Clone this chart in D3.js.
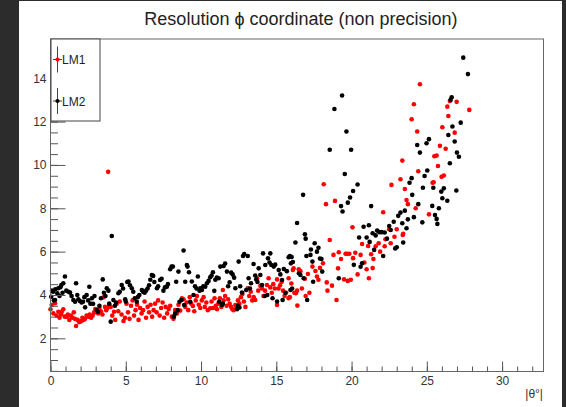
<!DOCTYPE html>
<html><head><meta charset="utf-8">
<script src="https://cdn.jsdelivr.net/npm/d3@7"></script>
<style>
html,body{margin:0;padding:0;background:#2c2c2c;}
svg{display:block;}
text{font-family:"Liberation Sans",Arial,Helvetica,sans-serif;}
</style></head>
<body>
<svg id="c" width="566" height="407"></svg>
<script>
const title = "Resolution \u03d5 coordinate (non precision)";
const xTitle = "|\u03b8\u00b0|";
const seriesNames = ["LM1", "LM2"];
const seriesColors = ["#ff0000", "#000000"];
const xTicks = [0, 5, 10, 15, 20, 25, 30];
const yTicks = [2, 4, 6, 8, 10, 12, 14];

// LM1 (red) : [|theta|, resolution]
const lm1 = [
[0.0,3.34],[0.08,3.54],[0.19,3.15],[0.3,3.62],[0.4,3.05],[0.52,3.23],[0.6,2.95],[0.7,3.1],[0.75,3.23],[0.85,3.34],[0.95,3.0],
[1.08,3.0],[1.15,3.1],[1.25,2.85],[1.35,3.05],[1.45,2.95],[1.55,3.2],[1.62,2.9],[1.7,2.57],[1.8,2.85],[1.9,2.75],[1.96,2.77],
[2.05,2.8],[2.12,2.95],[2.2,2.85],[2.3,2.9],[2.4,3.05],[2.52,3.0],[2.6,3.1],[2.7,2.95],[2.8,3.05],[2.9,3.2],[2.98,3.35],
[3.05,3.2],[3.18,3.15],[3.25,3.4],[3.35,3.25],[3.45,3.1],[3.52,3.89],[3.62,3.45],[3.7,3.3],[3.78,3.4],[3.83,9.68],[3.9,3.55],
[4.0,3.45],[4.1,3.05],[4.22,3.23],[4.3,2.85],[4.4,3.6],[4.5,3.25],[4.6,3.7],[4.72,3.1],[4.85,2.8],[4.95,2.95],
[5.05,3.6],[5.15,3.2],[5.25,2.9],[5.35,3.5],[5.45,3.75],[5.55,3.05],[5.65,3.3],[5.75,3.55],[5.85,2.85],[5.95,3.4],
[6.05,3.15],[6.15,3.3],[6.25,3.7],[6.35,2.95],[6.45,3.45],[6.55,3.2],[6.65,3.55],[6.75,3.0],[6.85,3.3],[6.95,3.6],
[7.05,3.2],[7.15,3.75],[7.25,3.05],[7.35,3.4],[7.45,3.65],[7.55,2.95],[7.65,3.45],[7.75,3.15],[7.85,3.35],[7.95,3.5],
[8.06,3.0],[8.17,2.9],[8.28,3.31],[8.4,3.15],[8.5,3.55],[8.62,3.28],[8.73,3.85],[8.84,3.8],[8.95,3.45],
[9.05,3.65],[9.15,3.3],[9.25,3.9],[9.35,3.6],[9.46,3.49],[9.55,3.25],[9.65,3.75],[9.73,3.95],[9.85,3.55],[9.95,3.4],
[10.05,3.75],[10.17,3.9],[10.25,3.45],[10.35,3.65],[10.45,3.3],[10.61,3.39],[10.7,3.7],[10.8,3.4],[10.9,3.85],[10.98,3.5],
[11.06,3.34],[11.15,3.6],[11.25,3.85],[11.35,3.45],[11.45,4.23],[11.5,3.75],[11.6,3.95],[11.7,3.5],[11.8,3.8],[11.9,3.6],[12.0,3.45],
[12.08,3.34],[12.16,3.3],[12.28,3.54],[12.35,3.4],[12.45,3.75],[12.55,3.6],[12.65,3.9],[12.75,4.05],[12.85,3.7],[12.95,3.45],
[13.1,4.31],[13.2,3.95],[13.3,4.15],[13.4,3.75],[13.5,3.9],[13.6,3.77],[13.72,4.77],[13.8,4.2],[13.94,4.42],
[14.05,4.3],[14.15,3.95],[14.25,4.2],[14.38,4.46],[14.49,4.77],[14.6,4.35],[14.7,4.1],[14.8,4.5],[14.9,4.3],
[15.05,4.72],[15.05,3.54],[15.15,4.3],[15.25,4.45],[15.35,4.6],[15.45,4.2],[15.55,3.95],[15.65,4.1],[15.82,4.77],[15.82,3.85],[15.9,3.9],
[16.0,4.53],[16.1,5.15],[16.15,5.23],[16.2,4.1],[16.3,4.08],[16.38,4.2],[16.4,3.51],[16.49,5.19],[16.6,5.1],[16.7,4.3],[16.9,4.75],[16.95,3.95],
[17.1,4.97],[17.2,4.1],[17.4,5.31],[17.6,5.11],[17.7,4.85],[17.8,4.7],[17.9,5.25],
[18.1,5.46],[18.15,9.11],[18.3,8.19],[18.35,4.58],[18.4,4.2],[18.55,6.54],[18.7,4.43],[18.8,5.85],[18.9,8.34],[19.0,3.77],
[19.1,5.23],[19.15,5.97],[19.3,5.66],[19.5,4.72],[19.6,5.9],[19.7,5.9],[19.75,4.65],[19.85,5.9],[19.95,4.7],
[20.06,7.12],[20.1,5.7],[20.25,5.95],[20.4,4.95],[20.6,5.85],[20.7,6.35],[20.85,5.5],[21.0,5.19],
[21.1,6.26],[21.15,4.77],[21.3,5.88],[21.4,5.24],[21.45,5.66],[21.6,6.25],[21.8,6.39],[21.9,6.0],
[22.1,7.82],[22.2,6.25],[22.25,6.57],[22.5,7.03],[22.6,6.39],[22.65,9.08],[22.85,6.69],[23.0,7.03],
[23.25,9.34],[23.37,10.2],[23.4,6.77],[23.43,6.82],[23.54,8.89],[23.65,8.38],[23.74,8.19],[23.99,12.11],
[24.14,12.8],[24.26,8.0],[24.36,11.54],[24.43,9.71],[24.54,13.72],
[25.14,7.72],[25.38,9.18],[25.45,9.2],[25.5,10.4],[25.65,10.43],[25.74,9.95],[25.87,10.88],[25.98,9.45],
[26.03,11.74],[26.13,9.51],[26.25,10.75],[26.36,12.69],[26.43,12.26],[26.53,12.95],[26.85,11.49],[26.98,12.91],
[27.82,12.54]
];

// LM2 (black)
const lm2 = [
[0.05,3.92],[0.1,4.2],[0.17,4.15],[0.22,3.75],[0.3,3.77],[0.32,4.26],[0.45,4.08],[0.52,4.31],[0.6,3.95],[0.66,4.36],[0.72,4.46],[0.8,4.1],[0.85,4.54],[0.96,4.85],
[1.05,4.2],[1.19,4.15],[1.3,4.11],[1.4,3.95],[1.52,3.77],[1.63,3.69],[1.7,4.54],[1.78,4.0],[1.85,3.8],[1.95,3.72],
[2.07,3.65],[2.16,3.69],[2.25,3.9],[2.3,3.43],[2.4,4.0],[2.5,3.75],[2.58,4.38],[2.65,3.6],[2.75,3.85],[2.83,3.59],[2.92,3.95],
[3.07,3.31],[3.16,3.23],[3.25,3.5],[3.35,3.85],[3.47,4.72],[3.55,4.1],[3.65,3.95],[3.74,4.31],[3.85,4.2],[3.9,3.6],[4.0,2.77],
[4.07,6.72],[4.18,3.77],[4.28,3.5],[4.35,3.65],[4.51,4.08],[4.6,4.15],[4.73,4.46],[4.82,4.3],[4.96,3.8],[5.0,3.7],
[5.1,4.6],[5.18,4.62],[5.28,4.45],[5.4,4.31],[5.5,4.15],[5.6,3.85],[5.73,3.69],[5.8,3.9],[5.9,4.0],
[6.07,4.23],[6.15,4.15],[6.25,4.1],[6.35,4.2],[6.45,4.3],[6.55,4.45],[6.63,4.7],[6.73,4.92],[6.82,4.88],[6.9,4.6],
[7.07,4.31],[7.15,4.4],[7.28,4.69],[7.38,4.75],[7.5,4.2],[7.6,4.35],[7.73,4.38],[7.8,4.5],[7.95,5.19],[8.04,5.31],
[8.13,5.31],[8.2,3.0],[8.28,3.15],[8.35,4.61],[8.45,3.3],[8.5,5.08],[8.57,3.69],[8.7,3.77],[8.84,6.05],[8.88,3.54],[8.95,4.61],
[9.06,5.38],[9.1,5.31],[9.2,5.05],[9.28,3.69],[9.39,4.62],[9.5,4.0],[9.6,4.4],[9.7,4.3],[9.79,4.85],[9.9,4.2],[9.95,4.31],
[10.06,4.23],[10.15,4.4],[10.28,4.38],[10.39,4.54],[10.5,4.65],[10.61,4.82],[10.7,4.9],[10.79,5.05],[10.88,4.19],[10.95,4.7],
[11.05,4.8],[11.17,4.77],[11.2,3.69],[11.28,5.31],[11.39,3.54],[11.45,3.6],[11.5,5.34],[11.6,5.45],[11.72,5.08],[11.8,4.4],[11.9,4.59],[12.0,5.03],
[12.1,4.95],[12.2,4.8],[12.28,4.31],[12.39,3.34],[12.45,3.5],[12.5,5.54],[12.55,3.42],[12.6,4.4],[12.72,4.11],[12.79,5.8],[12.87,5.89],[13.0,4.23],
[13.1,5.8],[13.16,4.77],[13.25,4.3],[13.32,4.54],[13.49,5.43],[13.6,4.9],[13.67,4.72],[13.75,4.6],[13.83,5.23],[13.94,4.92],
[14.05,4.46],[14.12,5.92],[14.23,3.95],[14.27,5.38],[14.4,4.0],[14.45,5.69],[14.55,5.5],[14.6,5.92],[14.67,5.38],[14.75,3.85],[14.83,5.31],[14.93,5.4],
[15.05,3.7],[15.16,5.15],[15.27,4.95],[15.38,4.69],[15.42,3.77],[15.5,5.2],[15.6,4.1],[15.7,5.1],[15.82,5.74],[15.9,5.8],[15.94,4.23],[15.97,5.46],
[16.02,5.75],[16.05,4.3],[16.1,5.52],[16.27,6.42],[16.38,7.32],[16.5,5.0],[16.6,4.92],[16.78,8.62],[16.82,4.77],[16.9,6.8],[16.95,6.6],[17.0,5.8],[17.05,3.77],
[17.27,5.85],[17.3,6.1],[17.4,5.54],[17.45,4.61],[17.55,6.39],[17.7,6.0],[17.8,6.18],[17.9,5.68],[18.0,5.66],[18.05,5.08],
[18.55,10.7],[18.86,12.58],
[19.15,4.77],[19.3,8.1],[19.37,13.2],[19.4,7.85],[19.55,9.58],[19.66,11.54],[19.75,8.26],[19.9,8.5],[19.97,10.7],
[20.1,8.8],[20.15,5.39],[20.4,9.1],[20.5,6.65],[20.6,5.3],[20.7,5.46],[20.8,7.15],[21.0,6.65],
[21.15,7.22],[21.2,6.45],[21.3,8.1],[21.4,6.85],[21.5,6.08],[21.6,6.75],[21.7,6.97],[21.85,6.9],[22.0,6.9],
[22.1,5.8],[22.2,6.88],[22.35,6.6],[22.5,7.18],[22.6,7.0],[22.8,7.38],[22.9,6.15],[23.0,6.2],
[23.1,7.65],[23.25,7.8],[23.37,7.31],[23.43,6.42],[23.54,7.89],[23.65,7.08],[23.74,7.49],[23.85,9.18],[23.99,9.39],
[24.03,8.62],[24.14,7.59],[24.36,10.92],[24.43,8.19],[24.54,10.57],[24.7,7.35],[24.74,8.95],[24.85,9.49],[24.98,11.0],
[25.03,9.74],[25.14,11.19],[25.36,8.11],[25.43,8.95],[25.54,7.69],[25.65,7.51],[25.7,7.28],[25.8,8.0],[25.96,8.77],
[26.03,8.46],[26.13,8.92],[26.36,8.35],[26.43,11.38],[26.53,10.08],[26.58,13.0],[26.65,13.12],[26.7,11.77],[26.85,11.08],[26.96,8.82],[27.0,10.57],
[27.13,10.38],[27.25,11.95],[27.42,14.95],[27.73,14.19]
];

const svg = d3.select("#c");
// canvas
svg.append("rect").attr("x",19).attr("y",1).attr("width",543).attr("height",406).attr("fill","#ffffff");

const x = d3.scaleLinear().domain([0, 32.75]).range([50.5, 543.5]);
const y = d3.scaleLinear().domain([0.47, 15.81]).range([371.5, 39]);

// title
svg.append("text").attr("x",301).attr("y",25).attr("text-anchor","middle")
  .attr("font-size",18).attr("fill","#222").text(title);

// points
const series = [lm1, lm2];
series.forEach((data,i)=>{
  svg.append("g").selectAll("circle").data(data).join("circle")
    .attr("cx",d=>x(d[0])).attr("cy",d=>y(d[1])).attr("r",2.3)
    .attr("fill",seriesColors[i]);
});

// axes
const xMinor = d3.range(0, 33, 1);
const yMinor = d3.range(0.5, 15.81, 0.5);
svg.append("g").attr("transform",`translate(0,${y.range()[0]})`)
  .call(d3.axisBottom(x).tickValues(xMinor).tickSize(-5).tickFormat(""))
  .call(g=>{g.select(".domain").remove(); g.selectAll("line").attr("stroke","#555");});
svg.append("g").attr("transform",`translate(0,${y.range()[0]})`)
  .call(d3.axisBottom(x).tickValues(xTicks).tickSize(-10).tickPadding(5).tickFormat(d3.format("d")))
  .call(g=>{g.select(".domain").remove(); g.selectAll("line").attr("stroke","#555");
    g.selectAll("text").attr("font-size",12).attr("fill","#333").attr("font-family","Liberation Sans, Arial, sans-serif");});

svg.append("g").attr("transform",`translate(${x.range()[0]},0)`)
  .call(d3.axisLeft(y).tickValues(yMinor).tickSize(-7.5).tickFormat(""))
  .call(g=>{g.select(".domain").remove(); g.selectAll("line").attr("stroke","#555");});
svg.append("g").attr("transform",`translate(${x.range()[0]},0)`)
  .call(d3.axisLeft(y).tickValues(yTicks).tickSize(-15).tickPadding(4).tickFormat(d3.format("d")))
  .call(g=>{g.select(".domain").remove(); g.selectAll("line").attr("stroke","#555");
    g.selectAll("text").attr("font-size",12).attr("fill","#333").attr("font-family","Liberation Sans, Arial, sans-serif");});

// frame
svg.append("rect").attr("x",x.range()[0]).attr("y",y.range()[1])
  .attr("width",x.range()[1]-x.range()[0]).attr("height",y.range()[0]-y.range()[1])
  .attr("fill","none").attr("stroke","#666").attr("stroke-width",1);

// x title
svg.append("text").attr("x",543).attr("y",398).attr("text-anchor","end")
  .attr("font-size",12).attr("fill","#333").text(xTitle);

// legend
const lg = svg.append("g");
lg.append("rect").attr("x",51).attr("y",39).attr("width",49).attr("height",82)
  .attr("fill","#fff").attr("stroke","#444").attr("stroke-width",1);
const legY = [59.5, 101];
seriesNames.forEach((nm,i)=>{
  const cy = legY[i];
  lg.append("line").attr("x1",57.5).attr("x2",57.5).attr("y1",cy-13).attr("y2",cy+13).attr("stroke","#444");
  lg.append("line").attr("x1",53).attr("x2",62).attr("y1",cy).attr("y2",cy).attr("stroke","#444");
  lg.append("circle").attr("cx",57.5).attr("cy",cy).attr("r",2.1).attr("fill",seriesColors[i]);
  lg.append("text").attr("x",62).attr("y",cy+4.5).attr("font-size",12).attr("fill","#222").text(nm);
});
</script>
</body></html>
